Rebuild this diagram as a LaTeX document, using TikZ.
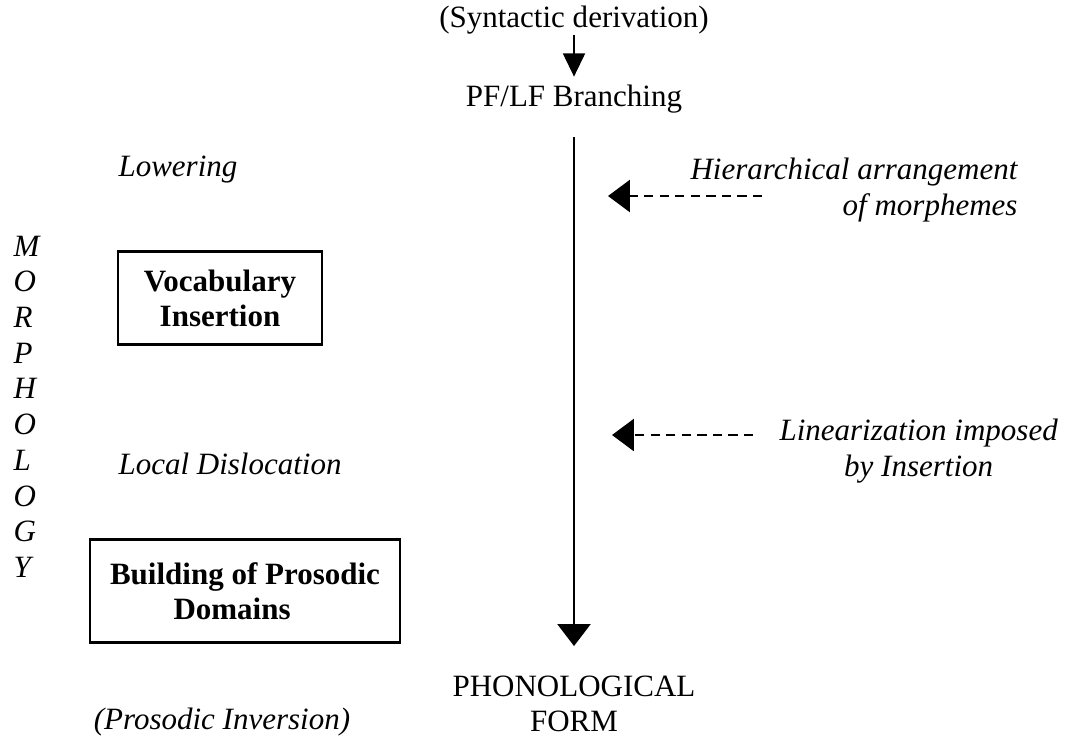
\documentclass[tikz,border=0pt]{standalone}
\usepackage{fontspec}
\setmainfont{Liberation Serif}
\usetikzlibrary{positioning,arrows.meta}
\tikzset{
  txt/.style={inner sep=0pt,font=\fontsize{12}{13.8}\selectfont},
  op/.style={inner sep=0pt,font=\fontsize{12}{13.8}\selectfont\itshape},
  stage/.style={draw,line width=1pt,align=center,inner sep=0pt,
    font=\fontsize{12}{13.6}\selectfont\bfseries},
  flow/.style={-{Triangle[length=8.5pt,width=12.8pt]},line width=0.8pt},
  small/.style={-{Triangle[length=9pt,width=8.5pt]},line width=0.8pt},
  feed/.style={-{Triangle[length=8.5pt,width=12.4pt]},line width=1pt,
    dash pattern=on 3.6pt off 2.4pt},
}
\begin{document}
\begin{tikzpicture}[x=0.387pt,y=-0.387pt]
  \useasboundingbox (0,0) rectangle (1075,740);
  % main column
  \node[txt] (syn) at (574,20) {(Syntactic derivation)};
  \node[txt] (pflf) at (574,99) {PF/LF Branching};
  \draw[small,shorten >=3pt] (syn) -- (pflf);
  \coordinate (ltop) at (574,137);
  \coordinate (lbot) at (574,646);
  \draw[flow] (ltop) -- (lbot);
  \node[txt,align=center] (pf) at (574,704) {PHONOLOGICAL\\FORM};

  % morphology side
  \foreach \ch [count=\i from 0] in {M,O,R,P,H,O,L,O,G,Y}
    \node[op,anchor=west] (m\i) at (13,{246+35.7*\i}) {\ch};
  \node[op,anchor=west] (low) at (118,170) {Lowering};
  \node[stage,minimum width=79pt,minimum height=36pt] (voc) at (220,298) {Vocabulary\\Insertion};
  \node[op,anchor=west] (ldis) at (118,464) {Local Dislocation};
  \node[stage,minimum width=120pt,minimum height=40pt] (bpd) at (245,591) {Building of Prosodic\\Domains\hspace*{10pt}};
  \node[op] (pinv) at (222,722) {(Prosodic Inversion)};

  % inputs from the right
  \node[op,align=right,anchor=west] (hier) at (690,190) {Hierarchical arrangement\\of morphemes};
  \coordinate (h0) at (762,196);
  \coordinate (h1) at (608,196);
  \draw[feed] (h0) -- (h1);
  \node[op,align=center,anchor=west] (lin) at (779,451) {Linearization imposed\\by Insertion};
  \coordinate (l0) at (753,435);
  \coordinate (l1) at (612,435);
  \draw[feed] (l0) -- (l1);
\end{tikzpicture}
\end{document}
